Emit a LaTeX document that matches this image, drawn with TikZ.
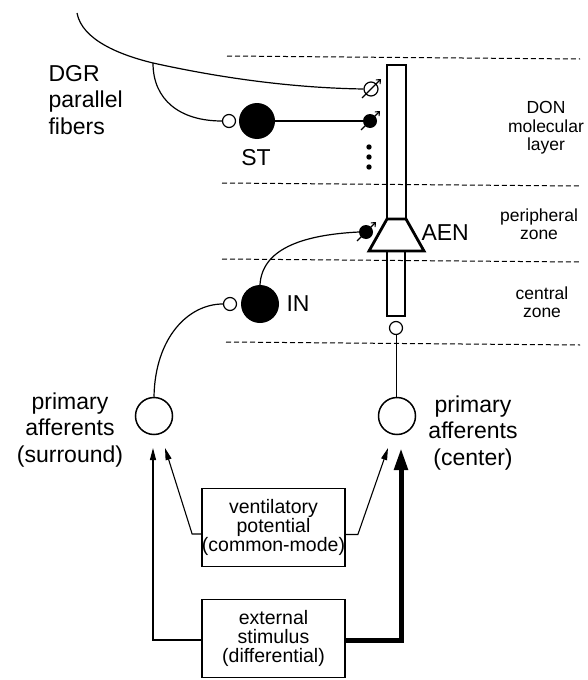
\documentclass[tikz,border=0pt]{standalone}
\usepackage{fontspec}
\setmainfont{Liberation Sans}
\usetikzlibrary{arrows.meta}
\begin{document}
\begin{tikzpicture}[x=1pt,y=-1pt,
  big/.style={font=\fontsize{23}{26.5}\selectfont},
  mid/.style={font=\fontsize{19.5}{19}\selectfont, align=center},
  small/.style={font=\fontsize{17.5}{18.5}\selectfont, align=center},
  layerline/.style={dash pattern=on 5pt off 3pt, line width=1pt},
  cell/.style={circle, draw, line width=1.5pt, minimum size=37pt, inner sep=0pt},
  blackcell/.style={circle, fill=black, minimum size=36pt, inner sep=0pt},
  knob/.style={circle, draw, line width=1.2pt, fill=white, minimum size=13pt, inner sep=0pt},
  synopen/.style={circle, draw, line width=1.2pt, minimum size=14pt, inner sep=0pt},
  synfill/.style={circle, fill=black, minimum size=14pt, inner sep=0pt},
  synarrow/.style={line width=1.1pt, -{Straight Barb[length=3.5pt,width=6pt]}},
  fiber/.style={line width=1.2pt},
  box/.style={draw, line width=1.7pt, minimum width=143pt, minimum height=78pt, inner sep=0pt, mid},
  thinarrow/.style={line width=1.1pt, -{Triangle[length=12pt,width=6pt]}},
  thickarrow/.style={line width=5pt, line join=miter, -{Triangle[length=22pt,width=13pt]}},
  neuron/.style={line width=2.4pt, line join=miter}
]
\useasboundingbox (0,0) rectangle (587,680);

% layer boundaries
\draw[layerline] (227,56) -- (580,59);
\draw[layerline] (222,183) -- (580,186);
\draw[layerline] (222,259) -- (580,262);
\draw[layerline] (226,342) -- (580,345);

% layer labels
\node[small] (don) at (546,128) {DON\\molecular\\layer};
\node[small] (peri) at (539,224) {peripheral\\zone};
\node[small] (cent) at (542,302) {central\\zone};

% AEN output cell
\coordinate (ctl) at (387,65);
\coordinate (ctr) at (406,65);
\coordinate (tl) at (387,219);
\coordinate (tr) at (406,219);
\coordinate (br) at (424,251);
\coordinate (bl) at (369,251);
\draw[neuron] (tl) -- (ctl) -- (ctr) -- (tr);
\draw[neuron, line width=2.8pt] (tl) -- (tr) -- (br) -- (bl) -- cycle;
\draw[neuron] (387,251) -- (387,316) -- (405,316) -- (405,251);
\node[big, anchor=west] (aen) at (418,233) {AEN};

% parallel fibers
\node[big, align=left, anchor=west] (dgr) at (45,100) {DGR\\parallel\\fibers};
\node[synopen] (s1) at (371,89) {};
\node[synfill] (s2) at (370,121) {};
\node[knob] (k1) at (229,121) {};
\node[blackcell] (st) at (257,121) {};
\node[big] (stl) at (256,158) {ST};
\coordinate (bp) at (153,63);
\draw[fiber] (77,13) .. controls (82,40) and (120,55) .. (bp)
  .. controls (230,80) and (300,88) .. (s1.west);
\draw[fiber] (bp) .. controls (153,100) and (180,121) .. (k1.west);
\draw[fiber] (st.east) -- (s2.west);
\draw[synarrow] ([shift={(-9,9)}]s1.center) -- ([shift={(10,-10)}]s1.center);
\draw[synarrow] ([shift={(-9,9)}]s2.center) -- ([shift={(10,-10)}]s2.center);
\foreach \yy/\nm in {147/d1,157/d2,167/d3}
  \fill (369,\yy) circle (2.7pt);

% IN interneuron
\node[synfill] (s3) at (366,232) {};
\node[knob] (k2) at (230,304) {};
\node[blackcell, minimum size=38pt] (in) at (260,304) {};
\node[big] (inl) at (298,304) {IN};
\draw[fiber] (in.north) .. controls (262,250) and (300,235) .. (s3.west);
\draw[synarrow] ([shift={(-9,9)}]s3.center) -- ([shift={(10,-10)}]s3.center);

% primary afferents
\node[cell] (pl) at (154,416) {};
\node[cell] (pr) at (397,416) {};
\node[knob] (k3) at (396,328) {};
\node[big, align=center] (pll) at (70,430) {primary\\afferents\\(surround)};
\node[big, align=center] (prl) at (473,433) {primary\\afferents\\(center)};
\draw[fiber] (k2.west) .. controls (188,304) and (155,338) .. (pl.north);
\draw[line width=1pt] (k3.south) -- (k3.south |- pr.north);

% inputs
\node[box] (vent) at (273.5,527.5) {ventilatory\\potential\\(common-mode)};
\node[box] (ext) at (273.5,638.5) {external\\stimulus\\(differential)};
\coordinate (tipL) at (153,448);
\coordinate (tipVL) at (165,448);
\coordinate (tipVR) at (388,448);
\coordinate (tipR) at (401,448);
\draw[thinarrow] ([yshift=-6.5pt]vent.west) -- ++(-9,0) -- (tipVL);
\draw[thinarrow] ([yshift=-7pt]vent.east) -- ++(12,0) -- (tipVR);
\draw[thinarrow] ([yshift=-1.5pt]ext.west) -| (tipL);
\draw[thickarrow] ([yshift=-1.5pt]ext.east) -| (tipR);
\end{tikzpicture}
\end{document}
